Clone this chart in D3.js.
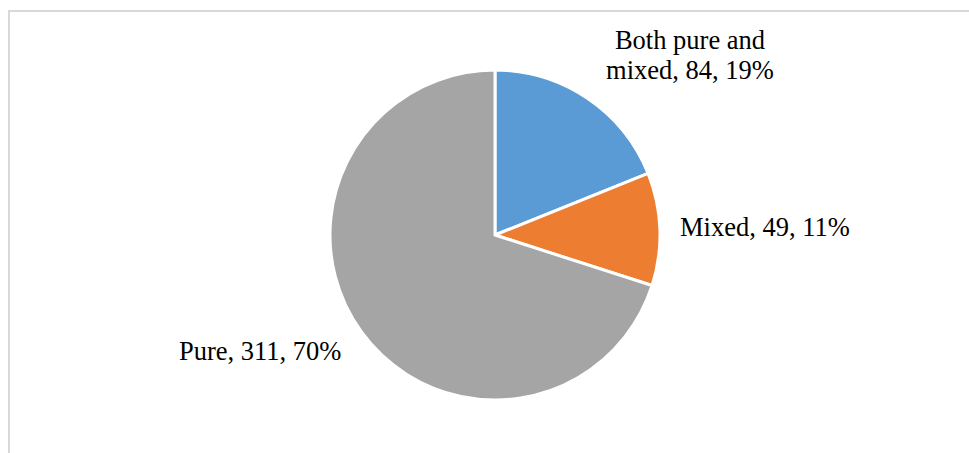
<!DOCTYPE html>
<html>
<head>
<meta charset="utf-8">
<script src="https://cdn.jsdelivr.net/npm/d3@7"></script>
<style>
  body { margin: 0; background: #fff; }
  text { font-family: "Liberation Serif", "DejaVu Serif", serif; fill: #000; }
</style>
</head>
<body>
<div id="chart"></div>
<script>
var categories = ["Both pure and mixed", "Mixed", "Pure"];
var counts = [84, 49, 311];
var percents = ["19%", "11%", "70%"];
var colors = ["#5b9bd5", "#ed7d31", "#a5a5a5"];

var width = 969, height = 453;
var cx = 495, cy = 235, radius = 165;

var svg = d3.select("#chart").append("svg")
    .attr("width", width)
    .attr("height", height);

// chart frame (only top and left edges visible in the window)
svg.append("rect")
    .attr("x", 9)
    .attr("y", 11)
    .attr("width", 1200)
    .attr("height", 800)
    .attr("fill", "none")
    .attr("stroke", "#d9d9d9")
    .attr("stroke-width", 2);

var data = categories.map(function(c, i) {
    return {name: c, value: counts[i], pct: percents[i], color: colors[i]};
});

var pie = d3.pie().sort(null).value(d => d.value);
var arc = d3.arc().innerRadius(0).outerRadius(radius);

var g = svg.append("g")
    .attr("transform", "translate(" + cx + "," + cy + ")");

g.selectAll("path")
    .data(pie(data))
    .join("path")
    .attr("d", arc)
    .attr("fill", d => d.data.color)
    .attr("stroke", "#fff")
    .attr("stroke-width", 3)
    .attr("stroke-linejoin", "round");

// labels
var fs = 26.5;
var lab = svg.append("g").attr("font-size", fs + "px");

var t0 = lab.append("text")
    .attr("text-anchor", "middle")
    .attr("x", 690)
    .attr("y", 49);
t0.append("tspan").attr("x", 690).text("Both pure and");
t0.append("tspan").attr("x", 690).attr("dy", 30)
    .text("mixed, " + data[0].value + ", " + data[0].pct);

lab.append("text")
    .attr("x", 680)
    .attr("y", 236)
    .text(data[1].name + ", " + data[1].value + ", " + data[1].pct);

lab.append("text")
    .attr("x", 179)
    .attr("y", 360)
    .text(data[2].name + ", " + data[2].value + ", " + data[2].pct);
</script>
</body>
</html>
